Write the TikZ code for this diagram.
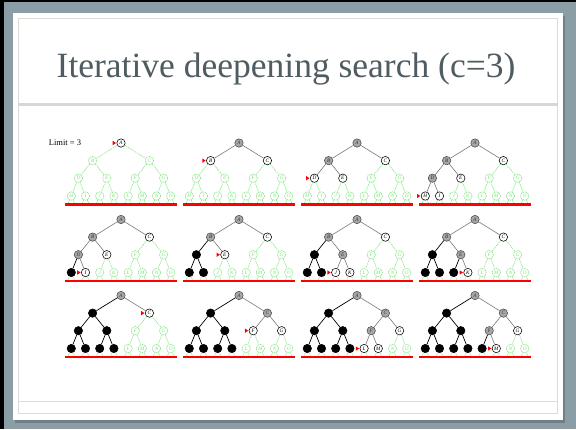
\documentclass[tikz,border=0pt]{standalone}
\usepackage{fontspec}
\setmainfont{Liberation Serif}
\definecolor{frameblue}{HTML}{8B9EA6}
\definecolor{shadowc}{HTML}{6E7F86}
\definecolor{linec}{HTML}{DCDCD6}
\definecolor{sepc}{HTML}{D3D9DB}
\definecolor{titlec}{HTML}{4F5C61}
\definecolor{grn}{RGB}{120,228,120}
\definecolor{gfill}{HTML}{A6A6A6}
\definecolor{gedge}{HTML}{7A7A7A}
\tikzset{
  nd/.style={circle,minimum size=8.4pt,inner sep=0pt,line width=0.55pt,
    font=\fontsize{5.2pt}{5.5pt}\selectfont\itshape},
  ndg/.style={nd,draw=grn,dash pattern=on 1.2pt off 0.7pt,fill=white,text=grn},
  ndw/.style={nd,draw=black,fill=white,text=black},
  nds/.style={nd,draw=gray!60!black,fill=gfill,text=gray!40!black},
  ndb/.style={nd,draw=black,fill=black,text=black},
  edg/.style={draw=grn,line width=0.55pt,dash pattern=on 1.2pt off 0.8pt},
  edw/.style={draw=gedge,line width=0.6pt},
  eds/.style={draw=gedge,line width=0.6pt},
  edb/.style={draw=black,line width=0.7pt},
  limitline/.style={draw=red,line width=2.2pt},
}
\def\tpA{0,0}
\def\tpB{-28.4,17.6}
\def\tpC{28.4,17.6}
\def\tpD{-42.6,35.2}
\def\tpE{-14.2,35.2}
\def\tpF{14.2,35.2}
\def\tpG{42.6,35.2}
\def\tpH{-49.7,53}
\def\tpI{-35.5,53}
\def\tpJ{-21.3,53}
\def\tpK{-7.1,53}
\def\tpL{7.1,53}
\def\tpM{21.3,53}
\def\tpN{35.5,53}
\def\tpO{49.7,53}
% #1 prefix, #2 x, #3 y, #4 states, #5 marked node
\newcommand\searchtree[5]{%
  \begin{scope}[shift={(#2,#3)}]
    \foreach \n/\s in {#4} {
      \edef\pos{\csname tp\n\endcsname}
      \node[nd\s] (#1\n) at (\pos) {\n};
      \expandafter\xdef\csname st#1\n\endcsname{\s}
    }
    \foreach \c/\p in {B/A,C/A,D/B,E/B,F/C,G/C,H/D,I/D,J/E,K/E,L/F,M/F,N/G,O/G} {
      \edef\cs{\csname st#1\c\endcsname}
      \draw[ed\cs] (#1\p) -- (#1\c);
    }
    \foreach \n in {H,I,J,K,L,M,N,O} {
      \draw[edg] (#1\n.-115) -- ++(-1.3,3.4);
      \draw[edg] (#1\n.-65) -- ++(1.3,3.4);
    }
    \coordinate (#1l) at (-56,61.5);
    \coordinate (#1r) at (56,61.5);
    \draw[limitline] (#1l) -- (#1r);
    \fill[red] ([xshift=-0.5pt]#1#5.west) -- ++(-3.3,-2.2) -- ++(0,4.4) -- cycle;
  \end{scope}
}
\begin{document}
\begin{tikzpicture}[x=1pt,y=-1pt]
\useasboundingbox (0,0) rectangle (576,429);
% slide frame
\fill[black] (0,0) rectangle (576,429);
\fill[frameblue] (4,2) rectangle (576,429);
\fill[shadowc] (15,16) rectangle (565,423);
\fill[white] (13,13) rectangle (563,420);
\draw[linec,line width=0.8pt] (18.5,18) rectangle (557.5,413.5);
\draw[linec,line width=0.8pt] (18.5,401) -- (557.5,401);
\fill[sepc] (18.5,102.5) rectangle (557.5,106);
\node[text=titlec,font=\fontsize{35.5pt}{38pt}\selectfont,anchor=base] (title) at (286,77) {Iterative deepening search (c=3)};
\node[font=\fontsize{8.5pt}{9pt}\selectfont] (limit) at (65,143) {Limit = 3};
% row 1
\searchtree{p1}{121}{143}{A/w,B/g,C/g,D/g,E/g,F/g,G/g,H/g,I/g,J/g,K/g,L/g,M/g,N/g,O/g}{A}
\searchtree{p2}{239}{143}{A/s,B/w,C/w,D/g,E/g,F/g,G/g,H/g,I/g,J/g,K/g,L/g,M/g,N/g,O/g}{B}
\searchtree{p3}{357}{143}{A/s,B/s,C/w,D/w,E/w,F/g,G/g,H/g,I/g,J/g,K/g,L/g,M/g,N/g,O/g}{D}
\searchtree{p4}{475}{143}{A/s,B/s,C/w,D/s,E/w,F/g,G/g,H/w,I/w,J/g,K/g,L/g,M/g,N/g,O/g}{H}
% row 2
\searchtree{p5}{121}{219.5}{A/s,B/s,C/w,D/s,E/w,F/g,G/g,H/b,I/w,J/g,K/g,L/g,M/g,N/g,O/g}{I}
\searchtree{p6}{239}{219.5}{A/s,B/s,C/w,D/b,E/w,F/g,G/g,H/b,I/b,J/g,K/g,L/g,M/g,N/g,O/g}{E}
\searchtree{p7}{357}{219.5}{A/s,B/s,C/w,D/b,E/s,F/g,G/g,H/b,I/b,J/w,K/w,L/g,M/g,N/g,O/g}{J}
\searchtree{p8}{475}{219.5}{A/s,B/s,C/w,D/b,E/s,F/g,G/g,H/b,I/b,J/b,K/w,L/g,M/g,N/g,O/g}{K}
% row 3
\searchtree{p9}{121}{295.5}{A/s,B/b,C/w,D/b,E/b,F/g,G/g,H/b,I/b,J/b,K/b,L/g,M/g,N/g,O/g}{C}
\searchtree{p10}{239}{295.5}{A/s,B/b,C/s,D/b,E/b,F/w,G/w,H/b,I/b,J/b,K/b,L/g,M/g,N/g,O/g}{F}
\searchtree{p11}{357}{295.5}{A/s,B/b,C/s,D/b,E/b,F/s,G/w,H/b,I/b,J/b,K/b,L/w,M/w,N/g,O/g}{L}
\searchtree{p12}{475}{295.5}{A/s,B/b,C/s,D/b,E/b,F/s,G/w,H/b,I/b,J/b,K/b,L/b,M/w,N/g,O/g}{M}
\end{tikzpicture}
\end{document}
